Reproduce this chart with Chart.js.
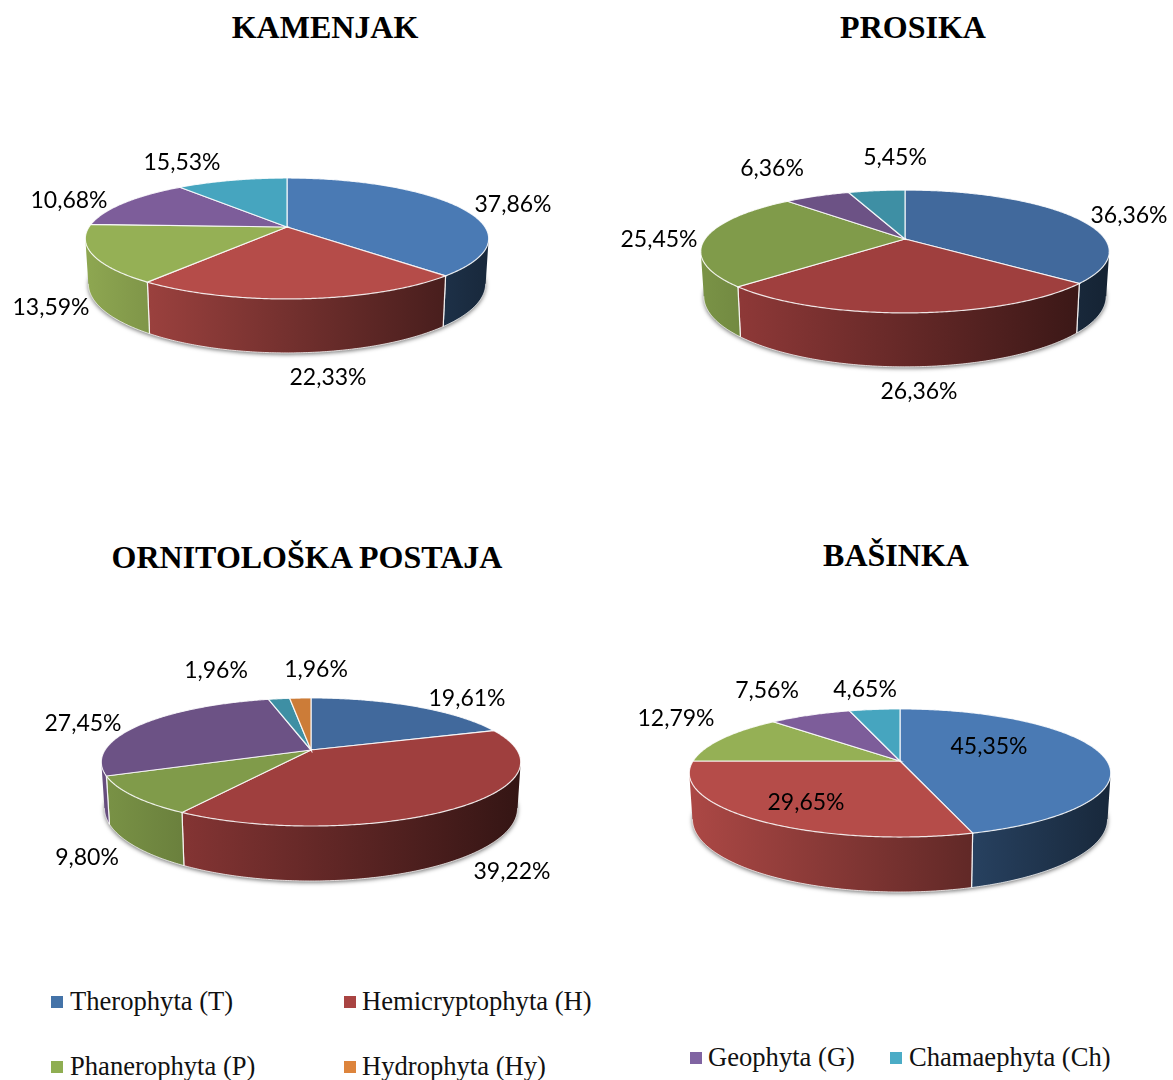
<!DOCTYPE html>
<html lang="en">
<head>
    <meta charset="UTF-8">
    <title>Life forms</title>
    <script src="https://cdn.jsdelivr.net/npm/chart.js"></script>
    <style>
        html, body { margin: 0; padding: 0; background: #fff; }
        #page { position: relative; width: 1173px; height: 1080px; overflow: hidden; background: #fff; }
        #page canvas { position: absolute; }
        .title {
            position: absolute; transform: translate(-50%, -50%); white-space: nowrap;
            font: bold 32px 'Liberation Serif', serif; color: #000;
        }
        .legend-text {
            position: absolute; transform: translateY(-50%); white-space: nowrap;
            font: 26.6px 'Liberation Serif', serif; color: #111;
        }
        .legend-box { position: absolute; width: 12px; height: 12px; }
    </style>
</head>
<body>
    <div id="page"></div>

    <script>
        // data
        const categories = ["Therophyta (T)", "Hemicryptophyta (H)", "Phanerophyta (P)", "Geophyta (G)", "Chamaephyta (Ch)", "Hydrophyta (Hy)"];
        const kamenjakValues = [37.86, 22.33, 15.53, 13.59, 10.68];
        const prosikaValues = [36.36, 26.36, 25.45, 6.36, 5.45];
        const ornitoloskaValues = [19.61, 39.22, 9.80, 27.45, 1.96, 1.96];
        const basinkaValues = [45.35, 29.65, 12.79, 7.56, 4.65];

        const lightColors = ["#4a7ab4", "#b54c49", "#95b055", "#7d5d9a", "#46a5bf", "#dd843c"];
        const darkColors = ["#41699c", "#9f3f3e", "#809b4a", "#6c5285", "#3e8fa4", "#cc7c38"];
        const legendColors = ["#4473a8", "#a94442", "#8fae52", "#8064a2", "#4bacc6", "#dd843c"];

        // x, y = pie centre, rx = radius, k = perspective, squash = tilt, depth = wall height
        const pies = [
            { title: "KAMENJAK", titleX: 325, titleY: 27, values: kamenjakValues, colors: lightColors, x: 287, y: 227, rx: 198, k: 0.19, squash: 0.2944, depth: 43.7,
              labels: [[226, -22], [41, 151], [-105, -64], [-236, 81], [-218, -26]] },
            { title: "PROSIKA", titleX: 913, titleY: 27, values: prosikaValues, colors: darkColors, x: 905, y: 239, rx: 200, k: 0.203, squash: 0.2945, depth: 43,
              labels: [[224, -23], [14, 153], [-246, 1], [-133, -70], [-10, -81]] },
            { title: "ORNITOLOŠKA POSTAJA", titleX: 307, titleY: 557, values: ornitoloskaValues, colors: darkColors, x: 311, y: 750, rx: 206, k: 0.187, squash: 0.3, depth: 44.7,
              labels: [[156, -51], [201, 122], [-224, 108], [-228, -26], [-95, -79], [5, -80]] },
            { title: "BAŠINKA", titleX: 896, titleY: 555, values: basinkaValues, colors: lightColors, x: 900, y: 761, rx: 207, k: 0.187, squash: 0.2986, depth: 44.7,
              labels: [[89, -14], [-94, 42], [-224, -42], [-133, -70], [-35, -71]] }
        ];

        // legend spots follow the order of categories
        const legendSpots = [
            { box: 51, text: 70, y: 1001 },
            { box: 344, text: 362, y: 1001 },
            { box: 51, text: 70, y: 1066 },
            { box: 690, text: 708, y: 1057 },
            { box: 890, text: 909, y: 1057 },
            { box: 344, text: 362, y: 1066 }
        ];

        const page = document.getElementById("page");
        const canvasWidth = 570;

        function shade(hex, f) {
            const n = parseInt(hex.slice(1), 16);
            const r = Math.round((n >> 16) * f);
            const g = Math.round(((n >> 8) & 255) * f);
            const b = Math.round((n & 255) * f);
            return "rgb(" + r + "," + g + "," + b + ")";
        }

        function formatPercent(v) {
            return v.toFixed(2).replace(".", ",") + "%";
        }

        // perspective view of a point on the pie, z = 0 top face, z = 1 bottom face
        function project(view, arc, angle, z) {
            const u = Math.cos(angle);
            const v = Math.sin(angle);
            const w = 1 - view.k * v;
            const R = arc.outerRadius;
            return {
                x: arc.x + R * u * (1 - 0.015 * z) / w,
                y: arc.y + (R * view.squash * v + view.depth * z) / w
            };
        }

        function rimPoints(view, arc, a1, a2, z) {
            const steps = Math.max(2, Math.ceil((a2 - a1) / 0.01));
            const pts = [];
            for (let i = 0; i <= steps; i++) {
                pts.push(project(view, arc, a1 + (a2 - a1) * i / steps, z));
            }
            return pts;
        }

        function tracePath(ctx, pts) {
            ctx.beginPath();
            pts.forEach((p, i) => {
                if (i === 0) ctx.moveTo(p.x, p.y);
                else ctx.lineTo(p.x, p.y);
            });
        }

        const pie3d = {
            id: "pie3d",
            beforeDatasetsDraw(chart, args, opts) {
                const ctx = chart.ctx;
                const view = opts.view;
                const arcs = chart.getDatasetMeta(0).data;
                const colors = chart.data.datasets[0].backgroundColor;
                const first = arcs[0];
                const left = first.x - first.outerRadius * 1.02;
                const right = first.x + first.outerRadius * 1.02;
                // the side edges of the drum sit a bit in front of the centre line
                const frontFrom = Math.asin(view.k);
                const frontTo = Math.PI - Math.asin(view.k);

                // soft shadow under the bottom edge
                ctx.save();
                ctx.shadowColor = "rgba(0,0,0,0.55)";
                ctx.shadowBlur = 4;
                ctx.shadowOffsetY = 1.5;
                ctx.fillStyle = "#a8a8a8";
                tracePath(ctx, rimPoints(view, first, 0, Math.PI * 2, 1));
                ctx.closePath();
                ctx.fill();
                ctx.restore();

                // walls
                arcs.forEach((arc, i) => {
                    const lo = Math.max(arc.startAngle, frontFrom);
                    const hi = Math.min(arc.endAngle, frontTo);
                    if (hi <= lo) return;
                    const topEdge = rimPoints(view, arc, lo, hi, 0);
                    const bottomEdge = rimPoints(view, arc, lo, hi, 1);
                    const grad = ctx.createLinearGradient(left, 0, right, 0);
                    grad.addColorStop(0, shade(colors[i], 0.95));
                    grad.addColorStop(1, shade(colors[i], 0.33));
                    tracePath(ctx, topEdge.concat(bottomEdge.slice().reverse()));
                    ctx.closePath();
                    ctx.fillStyle = grad;
                    ctx.fill();
                    ctx.strokeStyle = "rgba(255,255,255,0.75)";
                    ctx.lineWidth = 1;
                    tracePath(ctx, bottomEdge);
                    ctx.stroke();
                    [arc.startAngle, arc.endAngle].forEach(a => {
                        if (a <= frontFrom || a >= frontTo) return;
                        tracePath(ctx, [project(view, arc, a, 0), project(view, arc, a, 1)]);
                        ctx.strokeStyle = "rgba(255,255,255,0.85)";
                        ctx.lineWidth = 1.2;
                        ctx.stroke();
                    });
                });

                // top face
                arcs.forEach((arc, i) => {
                    const pts = [{ x: arc.x, y: arc.y }].concat(rimPoints(view, arc, arc.startAngle, arc.endAngle, 0));
                    tracePath(ctx, pts);
                    ctx.closePath();
                    ctx.fillStyle = colors[i];
                    ctx.fill();
                    ctx.strokeStyle = "rgba(255,255,255,0.85)";
                    ctx.lineWidth = 1.2;
                    ctx.stroke();
                });

                return false;
            },
            afterDraw(chart, args, opts) {
                const ctx = chart.ctx;
                const first = chart.getDatasetMeta(0).data[0];
                ctx.save();
                ctx.font = "23px Lato";
                ctx.fillStyle = "#000";
                ctx.textAlign = "center";
                ctx.textBaseline = "middle";
                chart.data.datasets[0].data.forEach((v, i) => {
                    const pos = opts.view.labels[i];
                    ctx.fillText(formatPercent(v), first.x + pos[0], first.y + pos[1]);
                });
                ctx.restore();
            }
        };

        pies.forEach(view => {
            const title = document.createElement("div");
            title.className = "title";
            title.textContent = view.title;
            title.style.left = view.titleX + "px";
            title.style.top = view.titleY + "px";
            page.appendChild(title);

            const canvas = document.createElement("canvas");
            canvas.width = canvasWidth;
            canvas.height = view.rx * 2;
            canvas.style.left = (view.x - canvasWidth / 2) + "px";
            canvas.style.top = (view.y - view.rx) + "px";
            page.appendChild(canvas);

            new Chart(canvas.getContext("2d"), {
                type: "pie",
                data: {
                    labels: categories.slice(0, view.values.length),
                    datasets: [{
                        data: view.values,
                        backgroundColor: view.colors.slice(0, view.values.length),
                        borderWidth: 0
                    }]
                },
                options: {
                    responsive: false,
                    animation: false,
                    plugins: {
                        legend: { display: false },
                        tooltip: { enabled: false },
                        pie3d: { view: view }
                    }
                },
                plugins: [pie3d]
            });
        });

        categories.forEach((name, i) => {
            const spot = legendSpots[i];
            const box = document.createElement("div");
            box.className = "legend-box";
            box.style.left = spot.box + "px";
            box.style.top = (spot.y - 5) + "px";
            box.style.background = legendColors[i];
            page.appendChild(box);

            const text = document.createElement("div");
            text.className = "legend-text";
            text.textContent = name;
            text.style.left = spot.text + "px";
            text.style.top = spot.y + "px";
            page.appendChild(text);
        });
    </script>
</body>
</html>
